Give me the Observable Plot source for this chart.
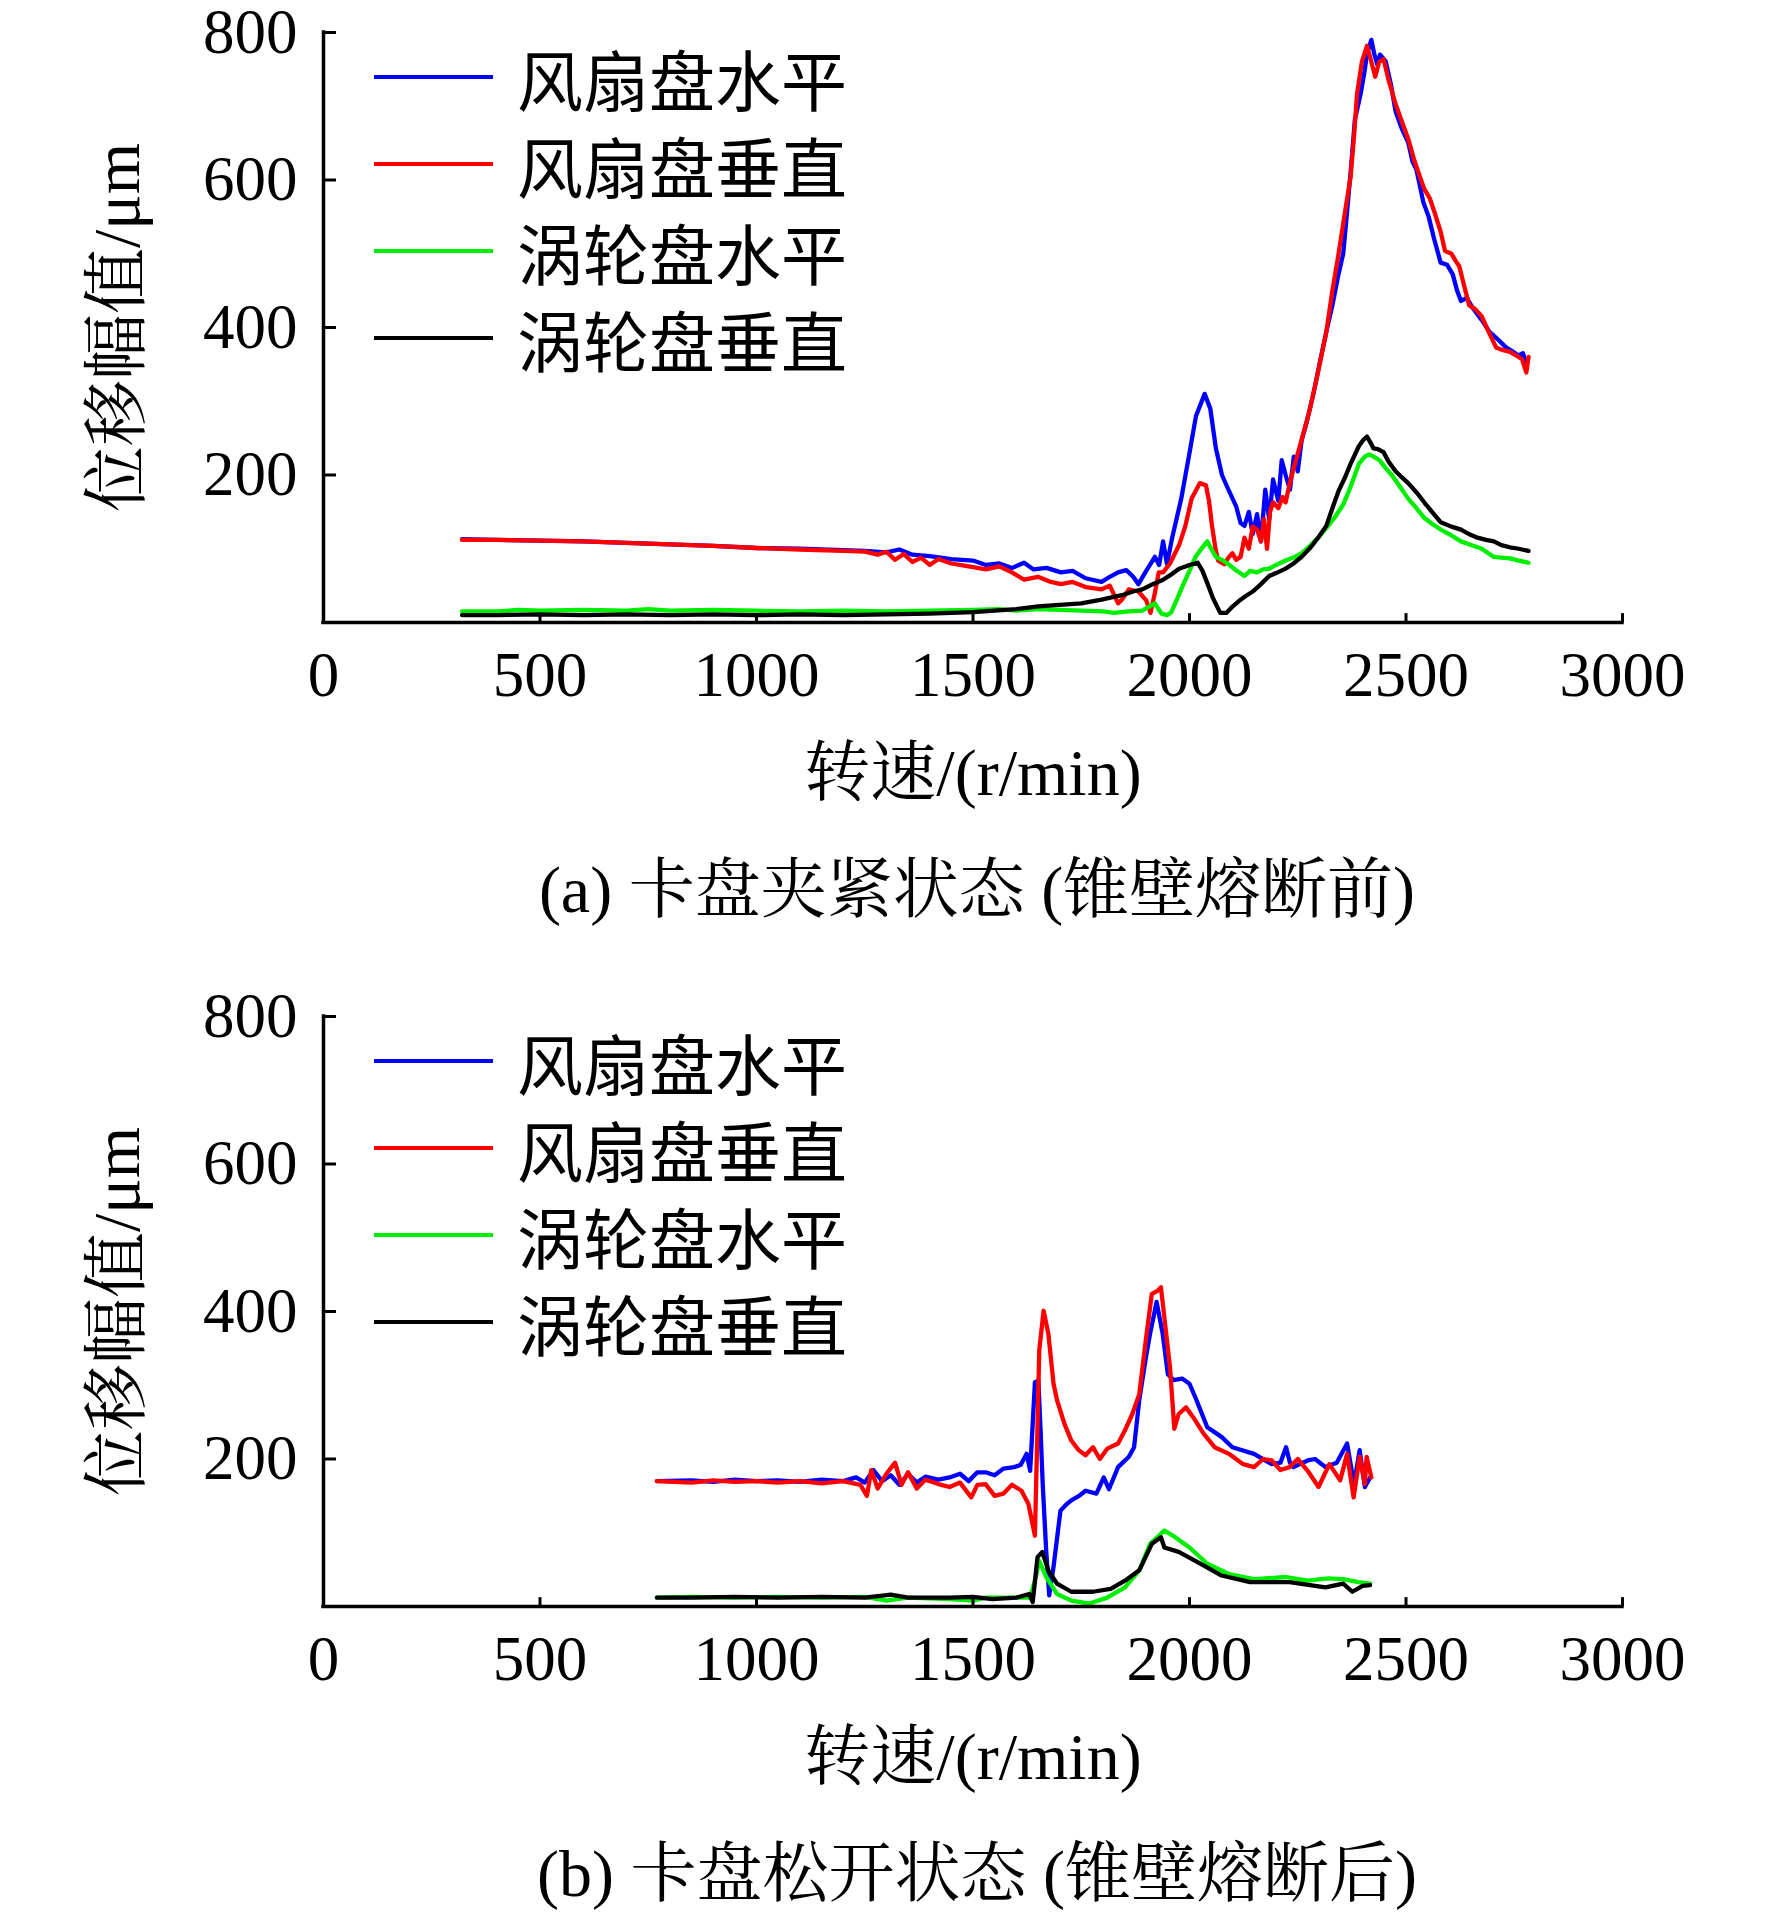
<!DOCTYPE html>
<html><head><meta charset="utf-8">
<script src="https://cdn.jsdelivr.net/npm/d3@7"></script>
<script src="https://cdn.jsdelivr.net/npm/@observablehq/plot@0.6"></script>
<style>
html,body{margin:0;padding:0;background:#fff;}
body{width:1772px;height:1914px;position:relative;overflow:hidden;font-family:"Liberation Serif","Noto Serif CJK SC","Noto Sans CJK SC",serif;color:#000;}
.panel{position:absolute;left:0;width:1772px;}
.caption{position:absolute;left:327px;width:1300px;text-align:center;font-size:66px;line-height:66px;white-space:pre;}
.legend{position:absolute;left:374px;}
.row{display:flex;align-items:center;height:87px;}
.sw{width:119px;height:4px;margin-right:24px;}
.lt{font-size:66px;line-height:66px;font-family:"Noto Sans CJK SC",sans-serif;}
</style></head><body>
<div id="pa" class="panel" style="top:0px"></div>
<div class="caption" style="top:857px">(a) 卡盘夹紧状态 (锥壁熔断前)</div>
<div id="pb" class="panel" style="top:984px"></div>
<div class="caption" style="top:1841px">(b) 卡盘松开状态 (锥壁熔断后)</div>
<script>
// ---------- labels & ticks ----------
const xTicks = [0, 500, 1000, 1500, 2000, 2500, 3000];
const yTicks = [200, 400, 600, 800];
const seriesNames = ["风扇盘水平", "风扇盘垂直", "涡轮盘水平", "涡轮盘垂直"];
const seriesColors = ["#0000ff", "#ff0000", "#00ee00", "#000000"];
const xLabel = "转速/(r/min)";
const yLabel = "位移幅值/μm";

// ---------- chart (a) data: [rpm, amplitude µm] ----------
const aFanH = [[320,113],[400,112],[500,111],[600,110],[700,108],[800,106],[900,104],[1000,101],[1100,100],[1200,98],[1250,97],[1300,95],[1330,99],[1360,92],[1400,90],[1450,86],[1500,84],[1530,78],[1561,80],[1590,74],[1618,81],[1640,72],[1670,74],[1703,68],[1730,70],[1760,60],[1797,55],[1816,62],[1835,68],[1854,71],[1870,62],[1882,52],[1900,70],[1920,89],[1930,78],[1939,110],[1948,79],[1960,115],[1981,168],[2000,230],[2015,280],[2035,310],[2048,290],[2061,236],[2075,200],[2090,180],[2108,157],[2118,135],[2127,131],[2137,150],[2146,120],[2156,147],[2165,110],[2175,180],[2184,140],[2193,194],[2205,165],[2213,220],[2222,200],[2232,180],[2241,225],[2250,205],[2259,247],[2270,270],[2288,315],[2300,350],[2316,394],[2330,430],[2344,472],[2355,500],[2363,551],[2372,610],[2382,682],[2396,719],[2405,750],[2410,772],[2420,790],[2427,770],[2434,756],[2440,770],[2453,761],[2465,730],[2476,693],[2490,670],[2505,651],[2515,625],[2524,614],[2540,570],[2552,551],[2565,520],[2580,488],[2595,485],[2608,472],[2618,450],[2627,436],[2640,440],[2656,425],[2675,410],[2693,394],[2710,385],[2731,373],[2745,368],[2759,362],[2770,365],[2778,352]];
const aFanV = [[320,112],[400,112],[500,111],[600,110],[700,108],[800,106],[900,104],[1000,101],[1100,99],[1200,97],[1250,96],[1280,92],[1300,96],[1320,85],[1340,93],[1360,82],[1380,88],[1400,78],[1420,86],[1450,80],[1480,77],[1500,75],[1530,72],[1561,76],[1590,68],[1618,58],[1650,62],[1680,55],[1703,52],[1730,55],[1760,48],[1797,45],[1816,50],[1835,26],[1844,31],[1860,45],[1882,42],[1900,30],[1910,13],[1920,40],[1929,68],[1939,68],[1955,80],[1976,105],[1990,130],[2005,168],[2024,189],[2038,186],[2045,165],[2052,131],[2060,100],[2066,84],[2080,79],[2090,88],[2099,94],[2108,85],[2118,89],[2127,115],[2137,100],[2146,130],[2156,126],[2165,110],[2172,140],[2179,100],[2186,150],[2193,163],[2205,155],[2215,170],[2222,163],[2232,190],[2241,210],[2260,250],[2278,289],[2297,340],[2316,394],[2330,450],[2344,499],[2360,560],[2372,604],[2380,660],[2387,717],[2398,760],[2410,782],[2420,760],[2429,740],[2438,760],[2448,764],[2460,735],[2476,703],[2490,680],[2505,656],[2520,625],[2542,588],[2555,575],[2566,556],[2580,530],[2590,504],[2605,500],[2615,490],[2623,483],[2635,455],[2646,430],[2660,425],[2675,415],[2690,395],[2708,373],[2720,370],[2740,367],[2755,362],[2768,357],[2778,339],[2783,360]];
const aTurbH = [[320,15],[400,15],[450,17],[500,16],[600,17],[700,16],[750,18],[800,16],[900,17],[1000,16],[1100,15],[1200,16],[1300,15],[1400,16],[1500,17],[1560,18],[1600,16],[1650,18],[1700,17],[1750,16],[1800,15],[1825,13],[1860,15],[1891,16],[1920,26],[1935,12],[1948,10],[1958,14],[1970,30],[1986,52],[2000,70],[2014,89],[2030,102],[2041,110],[2050,100],[2061,89],[2075,85],[2090,79],[2105,72],[2127,63],[2140,70],[2156,68],[2170,72],[2184,73],[2200,78],[2222,84],[2240,88],[2259,94],[2280,105],[2297,115],[2316,128],[2335,142],[2355,160],[2372,184],[2391,215],[2405,225],[2415,228],[2425,225],[2439,220],[2452,210],[2467,200],[2485,185],[2505,168],[2520,158],[2542,142],[2560,134],[2580,126],[2605,118],[2627,110],[2650,105],[2675,100],[2690,94],[2703,89],[2720,88],[2740,87],[2760,84],[2783,81]];
const aTurbV = [[320,10],[400,10],[500,11],[600,10],[700,11],[800,10],[900,11],[1000,10],[1100,11],[1200,10],[1300,11],[1400,12],[1450,13],[1500,14],[1550,16],[1600,18],[1650,22],[1700,24],[1750,26],[1797,31],[1820,34],[1844,37],[1870,42],[1891,45],[1915,52],[1939,58],[1960,66],[1976,73],[2000,78],[2019,81],[2030,70],[2042,52],[2055,32],[2071,13],[2085,13],[2100,22],[2118,31],[2130,36],[2146,42],[2165,52],[2184,63],[2200,67],[2222,73],[2240,80],[2259,89],[2280,102],[2297,115],[2316,131],[2330,155],[2344,178],[2360,198],[2372,215],[2391,239],[2402,248],[2410,252],[2418,244],[2425,236],[2435,235],[2448,231],[2460,218],[2476,205],[2490,197],[2505,189],[2525,176],[2542,163],[2560,150],[2580,136],[2605,130],[2627,126],[2645,120],[2665,115],[2685,112],[2703,110],[2720,105],[2740,102],[2760,100],[2783,97]];

// ---------- chart (b) data: [rpm, amplitude µm] ----------
const bFanH = [[770,170],[850,171],[900,169],[950,172],[1000,170],[1050,171],[1100,169],[1150,172],[1200,170],[1230,175],[1250,168],[1270,185],[1290,170],[1310,178],[1330,165],[1350,180],[1370,168],[1390,176],[1420,172],[1446,175],[1470,180],[1490,170],[1510,182],[1529,182],[1550,178],[1570,187],[1595,189],[1610,192],[1624,207],[1632,184],[1643,304],[1651,306],[1656,240],[1661,166],[1669,76],[1676,15],[1686,54],[1702,130],[1715,138],[1727,144],[1745,150],[1760,157],[1785,153],[1802,175],[1814,159],[1835,189],[1860,203],[1872,216],[1884,280],[1900,340],[1909,370],[1924,413],[1938,370],[1950,315],[1963,307],[1983,309],[2000,302],[2016,280],[2041,243],[2074,230],[2099,216],[2149,207],[2190,193],[2210,195],[2223,216],[2232,195],[2240,189],[2273,198],[2290,200],[2314,189],[2340,195],[2364,221],[2380,166],[2393,212],[2405,162],[2417,175]];
const bFanV = [[770,170],[850,168],[900,171],[950,169],[1000,170],[1050,168],[1100,170],[1150,167],[1200,170],[1240,165],[1255,150],[1265,185],[1280,160],[1300,180],[1320,195],[1335,165],[1350,182],[1370,160],[1390,172],[1420,166],[1446,162],[1470,168],[1496,148],[1510,165],[1529,166],[1550,150],[1570,153],[1590,165],[1612,157],[1628,139],[1643,96],[1653,347],[1663,401],[1674,370],[1686,302],[1694,280],[1711,248],[1727,225],[1744,212],[1760,205],[1777,216],[1793,200],[1810,214],[1835,221],[1851,239],[1868,261],[1884,288],[1901,370],[1913,424],[1926,428],[1934,433],[1942,392],[1955,324],[1965,241],[1975,261],[1992,270],[2008,257],[2033,234],[2058,216],[2091,207],[2124,193],[2149,189],[2170,200],[2190,198],[2210,185],[2231,189],[2250,200],[2273,184],[2298,162],[2323,193],[2348,171],[2364,207],[2379,148],[2393,203],[2405,166],[2409,203],[2420,175]];
const bTurbH = [[770,12],[850,13],[950,12],[1050,13],[1150,12],[1250,13],[1300,8],[1350,12],[1446,10],[1500,8],[1529,12],[1600,12],[1632,12],[1645,40],[1653,62],[1669,40],[1694,17],[1727,8],[1769,4],[1810,12],[1851,26],[1884,49],[1909,85],[1942,103],[1967,94],[2000,80],[2041,58],[2091,44],[2149,37],[2223,40],[2273,35],[2320,38],[2355,37],[2390,33],[2417,31]];
const bTurbV = [[770,12],[850,12],[950,13],[1050,12],[1150,13],[1250,12],[1310,16],[1350,12],[1446,12],[1500,13],[1545,10],[1600,12],[1630,17],[1638,6],[1649,67],[1660,74],[1674,49],[1694,31],[1727,20],[1777,20],[1818,24],[1851,35],[1884,49],[1913,85],[1934,94],[1942,80],[1975,74],[2025,58],[2074,42],[2140,33],[2231,33],[2314,26],[2355,31],[2376,20],[2400,28],[2417,29]];

const FONT = '"Liberation Serif","Noto Serif CJK SC","Noto Sans CJK SC",serif';

function makeChart(seriesList) {
  const lines = seriesList.map((s, i) =>
    Plot.line(s, {x: d => d[0], y: d => d[1], stroke: seriesColors[i], strokeWidth: 4.3, strokeLinejoin: "round"}));
  return Plot.plot({
    width: 1772, height: 830,
    marginTop: 32, marginBottom: 208, marginLeft: 323, marginRight: 150,
    x: {domain: [0, 3000]},
    y: {domain: [0, 800]},
    style: {fontFamily: FONT, fontSize: "63px", background: "white", color: "black", overflow: "visible"},
    marks: [
      Plot.axisX({ticks: xTicks, tickSize: 0, tickPadding: 29, label: null, fontSize: 63, tickFormat: d => String(d)}),
      Plot.axisY({ticks: yTicks, tickSize: 0, tickPadding: 26, label: null, fontSize: 63, tickFormat: d => String(d)}),
      ...lines,
      Plot.ruleY([0], {x1: 0, x2: 3000, stroke: "black", strokeWidth: 3.5, strokeLinecap: "square"}),
      Plot.ruleX([0], {y1: 0, y2: 800, stroke: "black", strokeWidth: 3.5, strokeLinecap: "square"}),
      Plot.ruleX(xTicks, {x: d => d, y1: 0, y2: 12, stroke: "black", strokeWidth: 3}),
      Plot.ruleY(yTicks, {y: d => d, x1: 0, x2: 30, stroke: "black", strokeWidth: 3}),
      Plot.text([xLabel], {text: d => d, frameAnchor: "bottom", dy: 151, fontSize: 66, lineAnchor: "middle"}),
      Plot.text([yLabel], {text: d => d, frameAnchor: "left", dx: -206, rotate: -90, fontSize: 66, textAnchor: "middle", lineAnchor: "middle"})
    ]
  });
}

function makeLegend() {
  const lg = document.createElement("div");
  lg.className = "legend";
  lg.style.top = "33px";
  seriesNames.forEach((n, i) => {
    const r = document.createElement("div"); r.className = "row";
    const sw = document.createElement("div"); sw.className = "sw"; sw.style.background = seriesColors[i];
    const t = document.createElement("div"); t.className = "lt"; t.textContent = n;
    r.appendChild(sw); r.appendChild(t); lg.appendChild(r);
  });
  return lg;
}

const pa = document.getElementById("pa");
pa.appendChild(makeChart([aFanH, aFanV, aTurbH, aTurbV]));
pa.appendChild(makeLegend());
const pb = document.getElementById("pb");
pb.appendChild(makeChart([bFanH, bFanV, bTurbH, bTurbV]));
pb.appendChild(makeLegend());
</script>
</body></html>
